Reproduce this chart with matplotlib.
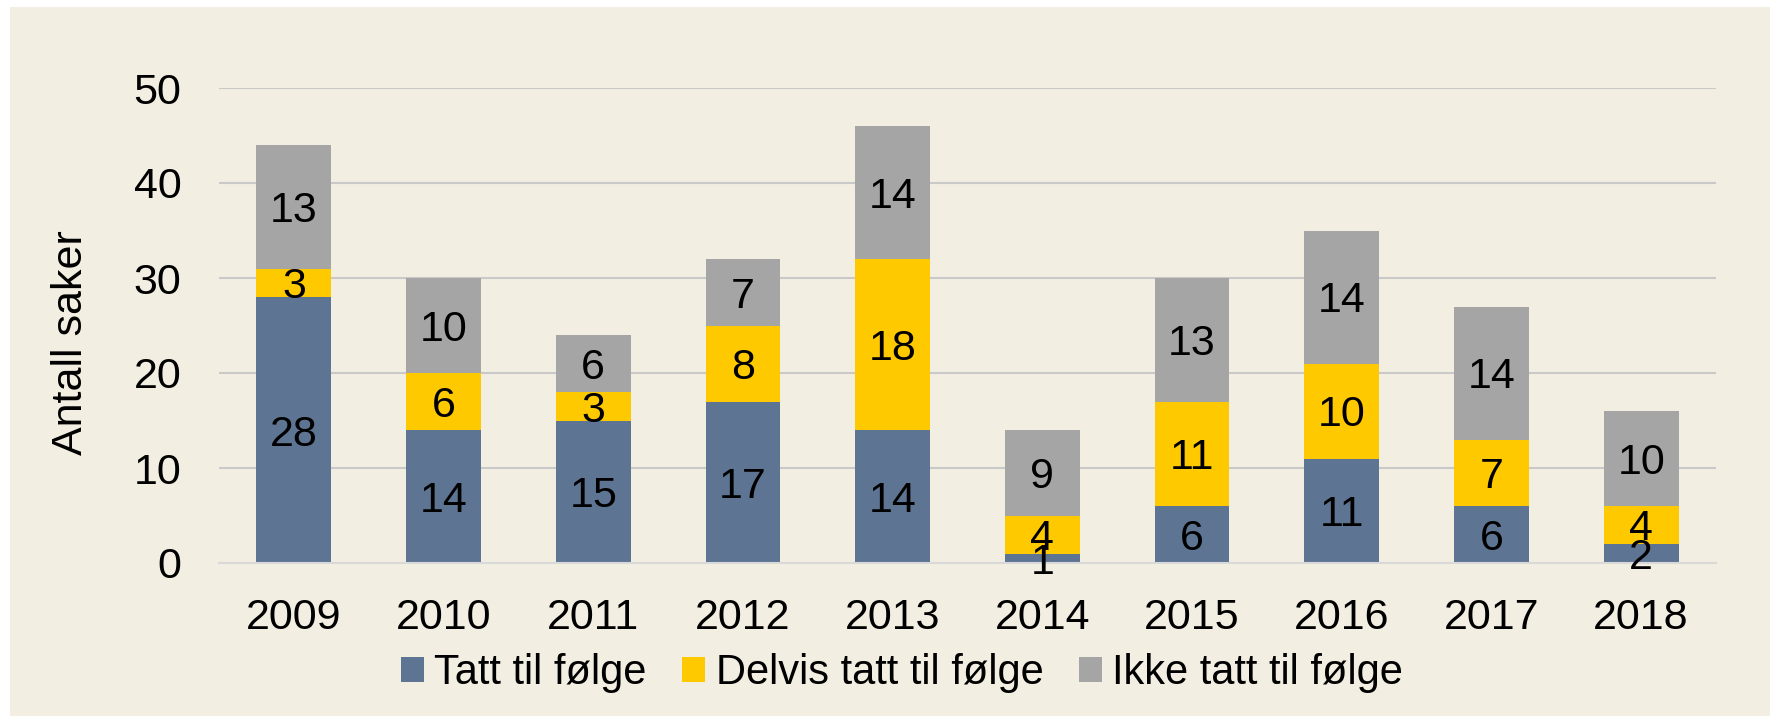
import matplotlib
matplotlib.use("Agg")
from matplotlib import pyplot as plt
from matplotlib.patches import Rectangle
import numpy as np

years = ['2009', '2010', '2011', '2012', '2013', '2014', '2015', '2016', '2017', '2018']
tatt = [28, 14, 15, 17, 14, 1, 6, 11, 6, 2]
delvis = [3, 6, 3, 8, 18, 4, 11, 10, 7, 4]
ikke = [13, 10, 6, 7, 14, 9, 13, 14, 14, 10]
series_names = ['Tatt til følge', 'Delvis tatt til følge', 'Ikke tatt til følge']
colors = ['#5E7493', '#FFC900', '#A5A5A5']
bg = '#F2EEE2'

plt.rcParams['font.family'] = ['Liberation Sans', 'DejaVu Sans']
fs = 31

fig = plt.figure(figsize=(17.7, 7.16), dpi=100, facecolor='white')
# cream panel, white strip on top and left
fig.patches.append(Rectangle((10 / 1770, 0), 1, 1 - 7 / 716, transform=fig.transFigure,
                             facecolor=bg, edgecolor='none', zorder=-10))

ax = fig.add_axes([219 / 1770, 153 / 716, 1497 / 1770, 475 / 716])
ax.set_facecolor('none')

x = np.arange(len(years))
bottom = np.zeros(len(years))
for vals, name, col in zip([tatt, delvis, ikke], series_names, colors):
    vals = np.array(vals)
    ax.bar(x, vals, 0.5, bottom=bottom, color=col, label=name, zorder=2)
    for xi, b, v in zip(x, bottom, vals):
        ax.text(xi, b + v / 2, str(v), ha='center', va='center_baseline',
                fontsize=fs, color='black', zorder=3)
    bottom = bottom + vals

ax.set_xlim(-0.5, len(years) - 0.5)
ax.set_ylim(0, 50)
ax.set_yticks(range(0, 51, 10))
ax.set_xticks(x)
ax.set_xticklabels(years)
ax.tick_params(axis='both', length=0, labelsize=fs)
ax.tick_params(axis='y', pad=27)
ax.tick_params(axis='x', pad=25)

ax.yaxis.grid(True, color='#C9C9C9', linewidth=1.5, zorder=1)
ax.set_axisbelow(True)
for s in ['top', 'right', 'left']:
    ax.spines[s].set_visible(False)
ax.spines['bottom'].set_color('#D9D9D9')
ax.spines['bottom'].set_linewidth(1.5)

ax.set_ylabel('Antall saker', fontsize=fs)
ax.yaxis.set_label_coords(-0.0855, 0.463)

fig.legend(loc='center', bbox_to_anchor=(902 / 1770, 43 / 716), ncol=3, frameon=False,
           fontsize=30, handlelength=0.55, handleheight=0.55, handletextpad=0.25,
           columnspacing=0.85, borderpad=0)

fig.savefig('out.png', dpi=100, facecolor=fig.get_facecolor())
